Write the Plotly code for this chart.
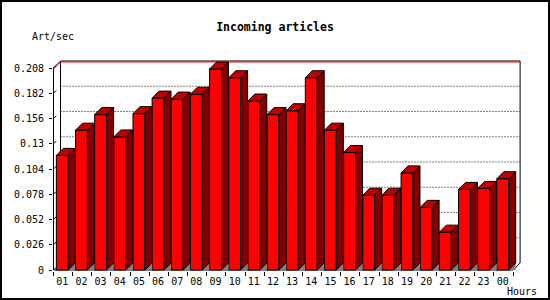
import plotly.graph_objects as go

# ---------------- data ----------------
hours = ["01", "02", "03", "04", "05", "06", "07", "08", "09", "10", "11", "12",
         "13", "14", "15", "16", "17", "18", "19", "20", "21", "22", "23", "00"]
art_per_sec = [0.118, 0.144, 0.160, 0.137, 0.161, 0.177, 0.176, 0.181, 0.207, 0.198,
               0.174, 0.160, 0.164, 0.198, 0.144, 0.121, 0.077, 0.077, 0.100, 0.0645,
               0.039, 0.083, 0.084, 0.094]
y_tick_values = [0, 0.026, 0.052, 0.078, 0.104, 0.13, 0.156, 0.182, 0.208]
y_tick_labels = ["0", "0.026", "0.052", "0.078", "0.104", "0.13", "0.156", "0.182", "0.208"]
title_text = "Incoming articles"
y_title = "Art/sec"
x_title = "Hours"

# ---------------- geometry ----------------
W, H = 550, 300
ML, MR, MT, MB = 53, 29, 59, 29
PW, PH = W - ML - MR, H - MT - MB
SLOT = 19.15                 # px per hour slot
PXU = 202 / 0.208            # px per value unit
DEPTH = 7                    # 3D depth in px
ZERO_PX_Y = 270              # pixel row of value 0
X0_PX = 53.5                 # pixel column of x = 0

xmin = -(X0_PX - ML) / SLOT
xmax = xmin + PW / SLOT
ymin = -((H - MB) - ZERO_PX_Y) / PXU
ymax = ymin + PH / PXU
dx = DEPTH / SLOT
dy = DEPTH / PXU
n = len(hours)
ytop = max(y_tick_values)

FRONT_L, FRONT_R = 0.15, 0.77
RED, TOP, SIDE, GREY = "#ff0000", "#c00000", "#800000", "#808080"
FONT = "DejaVu Sans Mono"

fig = go.Figure()

# front faces (real bars)
fig.add_trace(go.Bar(
    x=[i + (FRONT_L + FRONT_R) / 2 for i in range(n)], y=art_per_sec,
    width=FRONT_R - FRONT_L,
    marker=dict(color=RED, line=dict(color="black", width=1)),
    hoverinfo="skip", showlegend=False))

# floor shadows, side and top faces
gx, gy, sx, sy, tx, ty = [], [], [], [], [], []
for i, v in enumerate(art_per_sec):
    xl, xr = i + FRONT_L, i + FRONT_R
    gx += [xr, xr + dx, xr + dx, xr, None]
    gy += [0, dy, 0, 0, None]
    sx += [xr, xr, xr + dx, xr + dx, xr, None]
    sy += [0, v, v + dy, dy, 0, None]
    tx += [xl, xl + dx, xr + dx, xr, xl, None]
    ty += [v, v + dy, v + dy, v, v, None]

fig.add_trace(go.Scatter(x=gx, y=gy, mode="lines", fill="toself", fillcolor=GREY,
                         line=dict(width=0, color=GREY), hoverinfo="skip", showlegend=False))
fig.add_trace(go.Scatter(x=sx, y=sy, mode="lines", fill="toself", fillcolor=SIDE,
                         line=dict(width=1, color="black"), hoverinfo="skip", showlegend=False))
fig.add_trace(go.Scatter(x=tx, y=ty, mode="lines", fill="toself", fillcolor=TOP,
                         line=dict(width=1, color="black"), hoverinfo="skip", showlegend=False))

shapes = []
def seg(x0, y0, x1, y1, color="black", dash="solid", width=1):
    shapes.append(dict(type="line", xref="x", yref="y", x0=x0, y0=y0, x1=x1, y1=y1,
                       layer="below", line=dict(color=color, width=width, dash=dash)))

# dotted grid on the back wall
for v in y_tick_values[1:-1]:
    seg(dx, v + dy, n + dx, v + dy, dash="1px,2px")
# small depth ticks
for v in y_tick_values:
    seg(0, v, 0.4 * dx, v + 0.4 * dy)
# back wall frame
seg(dx, dy, dx, ytop + dy)
seg(dx, ytop + dy, n + dx, ytop + dy)
seg(n + dx, ytop + dy, n + dx, dy)
seg(n + dx, dy, n, 0)
seg(0, ytop, dx, ytop + dy)
# front axes
seg(0, 0, 0, ytop)
seg(0, 0, n, 0)
# max line
vmax = max(art_per_sec)
seg(0, vmax, dx, vmax + dy, color=RED)
seg(dx, vmax + dy, n + dx, vmax + dy, color=RED)

# image border
shapes.append(dict(type="rect", xref="paper", yref="paper",
                   x0=(1 - ML) / PW, x1=(549 - ML) / PW,
                   y0=((H - MB) - 299) / PH, y1=((H - MB) - 1) / PH,
                   line=dict(color="black", width=2), layer="above"))

fig.update_layout(
    width=W, height=H,
    margin=dict(l=ML, r=MR, t=MT, b=MB, pad=0),
    paper_bgcolor="white", plot_bgcolor="white",
    showlegend=False,
    shapes=shapes,
    title=dict(text="<b>" + title_text + "</b>", x=0.5, xanchor="center",
               y=1 - 26.7 / H, yanchor="middle", yref="container",
               font=dict(family=FONT, size=11.5, color="black")),
    xaxis=dict(range=[xmin, xmax], showgrid=False, zeroline=False, showline=False,
               tickmode="array", tickvals=[i + (FRONT_L + FRONT_R) / 2 for i in range(n)],
               ticktext=hours, ticks="", ticklabelstandoff=3,
               minor=dict(tickmode="array", tickvals=list(range(n + 1)), ticks="outside",
                          ticklen=4, tickcolor="black", tickwidth=1, showgrid=False),
               tickfont=dict(family=FONT, size=10, color="black")),
    yaxis=dict(range=[ymin, ymax], showgrid=False, zeroline=False, showline=False,
               tickmode="array", tickvals=y_tick_values, ticktext=y_tick_labels,
               ticks="outside", ticklen=3, tickcolor="black", tickwidth=1,
               ticklabelstandoff=3,
               tickfont=dict(family=FONT, size=10, color="black")),
    annotations=[
        dict(text=y_title, xref="paper", yref="paper", x=(30 - ML) / PW, xanchor="left",
             y=((H - MB) - 36.7) / PH, yanchor="middle", showarrow=False,
             font=dict(family=FONT, size=10, color="black")),
        dict(text=x_title, xref="paper", yref="paper", x=(505 - ML) / PW, xanchor="left",
             y=((H - MB) - 291.7) / PH, yanchor="middle", showarrow=False,
             font=dict(family=FONT, size=10, color="black")),
    ],
)

fig.write_html("out.html")
